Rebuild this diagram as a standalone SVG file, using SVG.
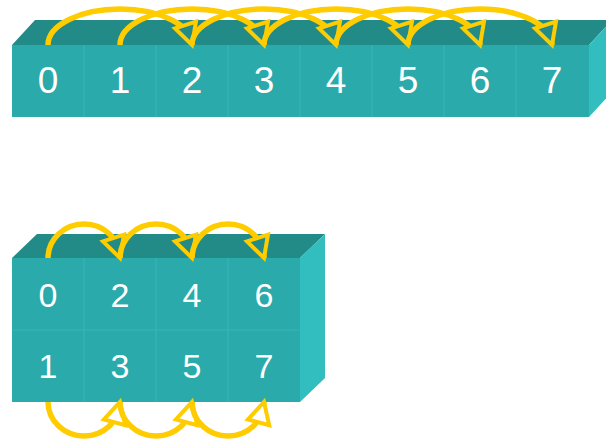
<svg xmlns="http://www.w3.org/2000/svg" width="606" height="441" viewBox="0 0 606 441">
<style>
.front{fill:#2aaaaa}
.top{fill:#228b88}
.side{fill:#32bebe}
.div{stroke:#3bb3b3;stroke-width:1.2;fill:none}
.num{fill:#ffffff;font-family:"Liberation Sans",Arial,sans-serif;text-anchor:middle}
.arc{fill:none;stroke:#ffcc00;stroke-width:5.5}
</style>
<defs>
<marker id="hd" markerUnits="userSpaceOnUse" markerWidth="34" markerHeight="34" viewBox="0 0 34 34" refX="27" refY="17" orient="72">
<path d="M6,6 L27,17 L6,28 Z" fill="#228b88" stroke="#ffcc00" stroke-width="4" stroke-linejoin="miter"/>
</marker>
<marker id="hu" markerUnits="userSpaceOnUse" markerWidth="34" markerHeight="34" viewBox="0 0 34 34" refX="27" refY="17" orient="-75">
<path d="M6,6 L27,17 L6,28 Z" fill="#ffffff" stroke="#ffcc00" stroke-width="4" stroke-linejoin="miter"/>
</marker>
</defs>
<rect width="606" height="441" fill="#ffffff"/>
<g id="bar8">
<polygon class="top" points="12,45 35,20 612,20 589,45"/>
<polygon class="side" points="589,45 612,20 612,92 589,117"/>
<rect class="front" x="12" y="45" width="577" height="72"/>
<path class="div" d="M84,45V117M156,45V117M228,45V117M300,45V117M372,45V117M444,45V117M516,45V117"/>
<g class="num" font-size="37">
<text x="48" y="93">0</text><text x="120" y="93">1</text><text x="192" y="93">2</text><text x="264" y="93">3</text><text x="336" y="93">4</text><text x="408" y="93">5</text><text x="480" y="93">6</text><text x="552" y="93">7</text>
</g>
</g>
<g id="block2x4">
<polygon class="top" points="12,258 37,234 325,234 300,258"/>
<polygon class="side" points="300,258 325,234 325,378 300,402"/>
<rect class="front" x="12" y="258" width="288" height="144"/>
<path class="div" d="M84,258V402M156,258V402M228,258V402M12,330H300"/>
<g class="num" font-size="34">
<text x="48" y="307">0</text><text x="120" y="307">2</text><text x="192" y="307">4</text><text x="264" y="307">6</text>
<text x="48" y="378">1</text><text x="120" y="378">3</text><text x="192" y="378">5</text><text x="264" y="378">7</text>
</g>
</g>
<g id="connectors">
<path class="arc" marker-end="url(#hd)" d="M48,45 A72,36 0 0 1 192,45"/>
<path class="arc" marker-end="url(#hd)" d="M120,45 A72,36 0 0 1 264,45"/>
<path class="arc" marker-end="url(#hd)" d="M192,45 A72,36 0 0 1 336,45"/>
<path class="arc" marker-end="url(#hd)" d="M264,45 A72,36 0 0 1 408,45"/>
<path class="arc" marker-end="url(#hd)" d="M336,45 A72,36 0 0 1 480,45"/>
<path class="arc" marker-end="url(#hd)" d="M408,45 A72,36 0 0 1 552,45"/>
<path class="arc" marker-end="url(#hd)" d="M48,258 A36,34 0 0 1 120,258"/>
<path class="arc" marker-end="url(#hd)" d="M120,258 A36,34 0 0 1 192,258"/>
<path class="arc" marker-end="url(#hd)" d="M192,258 A36,34 0 0 1 264,258"/>
<path class="arc" marker-end="url(#hu)" d="M48,402 A36,34 0 0 0 120,402"/>
<path class="arc" marker-end="url(#hu)" d="M120,402 A36,34 0 0 0 192,402"/>
<path class="arc" marker-end="url(#hu)" d="M192,402 A36,34 0 0 0 264,402"/>
</g>
</svg>
